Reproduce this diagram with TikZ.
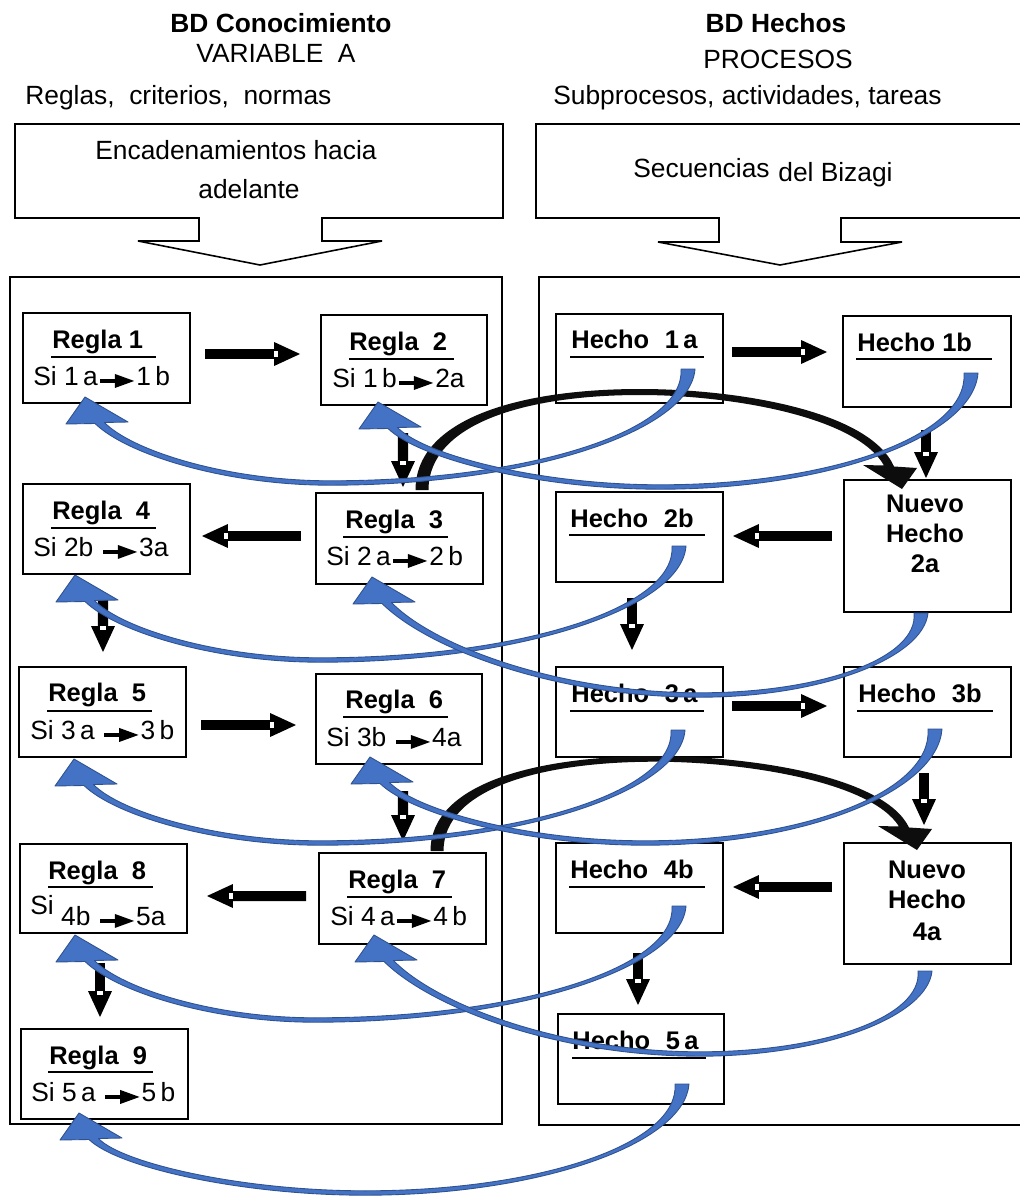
\documentclass[tikz,border=0pt]{standalone}
\usepackage{fontspec}
\setmainfont{Liberation Sans}
\usetikzlibrary{calc}

\definecolor{bandfill}{HTML}{4472C4}
\definecolor{bandline}{HTML}{2F528F}

% small inline arrow used inside the rule lines
\newcommand{\siarrow}{\hspace{1.2pt}\tikz[baseline={(0pt,-2.3pt)}]{\fill (0pt,-1.2pt) rectangle (8.5pt,1.2pt); \fill (8.5pt,-4pt) -- (19.5pt,0pt) -- (8.5pt,4pt) -- cycle;}\hspace{1.2pt}}
\newcommand{\gap}{\hspace{0.62em}}

% rectangular box given by its corners (pixel grid)
\newcommand{\boxat}[5]{\node[box, anchor=north west, minimum width={(#4-#2)*0.02cm}, minimum height={(#5-#3)*0.02cm}] (#1) at (#2,#3) {};}

% thick block arrow with a small white notch at the head
\newcommand{\blockarrow}[2]{%
  \coordinate (ba-from) at (#1);
  \coordinate (ba-to) at (#2);
  \coordinate (ba-base) at ($(ba-to)!14.7pt!(ba-from)$);
  \draw[line width=5.7pt] (ba-from) -- (ba-base);
  \fill ($(ba-base)!6.8pt!90:(ba-to)$) -- (ba-to) -- ($(ba-base)!6.8pt!-90:(ba-to)$) -- cycle;
  \draw[white, line width=3.2pt] (ba-base) -- ($(ba-base)!2.3pt!(ba-to)$);
}

% curved blue band arrow: start, lowest point, tip
\newcommand{\bluearrow}[3]{%
  \coordinate (bs) at (#1);
  \coordinate (bb) at (#2);
  \coordinate (bt) at (#3);
  \coordinate (bh) at ($(bt)+(14.75,26)$);
  \coordinate (c1) at ($(bs)!0.55!(bs|-bb)$);
  \coordinate (c2) at ($(bb)!0.55!(bs|-bb)$);
  \coordinate (c3) at ($(bb)!0.45!(bh|-bb)$);
  \coordinate (c4) at ($(bh)!0.7!45:(bh|-bb)$);
  \filldraw[fill=bandfill, draw=bandline, line width=0.5pt, line join=round]
    ($(bs)+(7,0)$) .. controls ($(c1)+(2.5,0)$) and ($(c2)+(0,2.2)$) .. ($(bb)+(0,2.2)$)
         .. controls ($(c3)+(0,2.2)$) and ($(c4)+(-2.2,2.2)$) .. ($(bt)+(10,26.5)$)
    -- ($(bt)+(-19,27)$) -- (bt) -- ($(bt)+(43,25)$) -- ($(bt)+(19.5,25.5)$)
         .. controls ($(c4)+(2.2,-2.2)$) and ($(c3)+(0,-2.2)$) .. ($(bb)+(0,-2.2)$)
         .. controls ($(c2)+(0,-2.2)$) and ($(c1)+(-2.5,0)$) .. ($(bs)+(-7,0)$)
    -- cycle;
}

% tapering black arc arrow, from the top of a rule box over to a new fact;
% #1 = height factor of the arc, #2 = foot of the arc
\newcommand{\blackarrow}[2]{%
  \def\kf{#1}%
  \coordinate (kp) at (#2);
  \fill[black!95] ($(kp)+(-6.5,0)$)
      .. controls ($(kp)+(-6.5,{-71*\kf})$) and ($(kp)+(97,{-101*\kf})$) .. ($(kp)+(218,{-101*\kf})$)
      .. controls ($(kp)+(313,{-101*\kf})$) and ($(kp)+(447,{-80*\kf})$) .. ($(kp)+(472,-23.5)$)
      -- ($(kp)+(495,-22)$) -- ($(kp)+(480,-1)$) -- ($(kp)+(441,-25)$) -- ($(kp)+(462,-24.5)$)
      .. controls ($(kp)+(434,{-74*\kf})$) and ($(kp)+(307,{-95*\kf})$) .. ($(kp)+(218,{-95*\kf})$)
      .. controls ($(kp)+(103,{-95*\kf})$) and ($(kp)+(6.5,{-66*\kf})$) .. ($(kp)+(6.5,0)$)
      -- cycle;
}

\begin{document}
\begin{tikzpicture}[x=0.02cm, y=-0.02cm,
  box/.style={draw, line width=1pt, fill=white, inner sep=0pt, outer sep=0pt},
  panel/.style={draw, line width=1.1pt},
  callout/.style={draw, line width=0.9pt, fill=white, line join=miter},
  uline/.style={line width=1.3pt},
  hd/.style={inner sep=0pt, font=\fontsize{15}{18}\selectfont},
  hdb/.style={inner sep=0pt, font=\bfseries\fontsize{15}{18}\selectfont},
  ttl/.style={inner sep=0pt, font=\bfseries\fontsize{14.5}{17}\selectfont},
  si/.style={inner sep=0pt, font=\fontsize{15}{18}\selectfont}]

\useasboundingbox (0,0) rectangle (1020,1196);
\clip (0,0) rectangle (1020,1196);
\fill[white] (0,0) rectangle (1020,1196);

% ---------- headings ----------
\node[hdb, anchor=base] (hkb) at (281,33) {BD Conocimiento};
\node[hd, anchor=base] (hvar) at (276,63) {VARIABLE\ \ A};
\node[hd, anchor=base west] (hreg) at (25,105) {Reglas,\ \ criterios,\ \ normas};
\node[hdb, anchor=base] (hhb) at (776,33) {BD Hechos};
\node[hd, anchor=base] (hpro) at (778,69) {PROCESOS};
\node[hd, anchor=base west] (hsub) at (553,105) {Subprocesos, actividades, tareas};

% ---------- callouts ----------
\draw[callout] (15,124) -- (503,124) -- (503,218) -- (322,218) -- (322,241) -- (382,241)
  -- (260,265) -- (138,241) -- (199,241) -- (199,218) -- (15,218) -- cycle;
\draw[callout] (536,124) -- (1026,124) -- (1026,218) -- (841,218) -- (841,242) -- (902,242)
  -- (780,265) -- (658,242) -- (719,242) -- (719,218) -- (536,218) -- cycle;
\node[hd, anchor=base] (enc1) at (236,160) {Encadenamientos hacia};
\node[hd, anchor=base] (enc2) at (249,198) {adelante};
\node[hd, anchor=base west] (sec1) at (633,178) {Secuencias};
\node[hd, anchor=base west] (sec2) at (778,182) {del Bizagi};

% ---------- panels ----------
\draw[panel] (10,277) rectangle (502,1124);
\draw[panel] (539,277) rectangle (1026,1125);

% ---------- rule boxes ----------
\boxat{r1}{23}{313}{190}{403}
\boxat{r2}{321}{315}{487}{405}
\boxat{r3}{316}{493}{483}{584}
\boxat{r4}{23}{484}{190}{574}
\boxat{r5}{19}{667}{186}{757}
\boxat{r6}{316}{674}{482}{764}
\boxat{r7}{319}{853}{486}{944}
\boxat{r8}{20}{844}{187}{933}
\boxat{r9}{21}{1029}{188}{1119}

\node[ttl, anchor=base west] (r1t) at (52,348) {Regla 1};
\node[ttl, anchor=base west] (r2t) at (349,350) {Regla\ \ 2};
\node[ttl, anchor=base west] (r3t) at (345,528) {Regla\ \ 3};
\node[ttl, anchor=base west] (r4t) at (52,519) {Regla\ \ 4};
\node[ttl, anchor=base west] (r5t) at (48,701) {Regla\ \ 5};
\node[ttl, anchor=base west] (r6t) at (345,708) {Regla\ \ 6};
\node[ttl, anchor=base west] (r7t) at (348,888) {Regla\ \ 7};
\node[ttl, anchor=base west] (r8t) at (48,879) {Regla\ \ 8};
\node[ttl, anchor=base west] (r9t) at (49,1064) {Regla\ \ 9};

\draw[uline] (51,357) -- (156,357);
\draw[uline] (349,359) -- (454,359);
\draw[uline] (343,537) -- (448,537);
\draw[uline] (51,528) -- (156,528);
\draw[uline] (47,711) -- (152,711);
\draw[uline] (343,717) -- (448,717);
\draw[uline] (347,897) -- (452,897);
\draw[uline] (48,887) -- (153,887);
\draw[uline] (48,1072) -- (153,1072);

\node[si, anchor=base west] (r1s) at (33,385) {Si 1\,a\siarrow 1\,b};
\node[si, anchor=base west] (r2s) at (332,387) {Si 1\,b\siarrow 2a};
\node[si, anchor=base west] (r3s) at (326,565) {Si 2\,a\siarrow 2\,b};
\node[si, anchor=base west] (r4s) at (33,556) {Si 2b \siarrow 3a};
\node[si, anchor=base west] (r5s) at (30,739) {Si 3\,a \siarrow 3\,b};
\node[si, anchor=base west] (r6s) at (326,746) {Si 3b \siarrow 4a};
\node[si, anchor=base west] (r7s) at (330,925) {Si 4\,a\siarrow 4\,b};
\node[si, anchor=base west] (r8s) at (30,925) {\raisebox{6.2pt}{Si} 4b \siarrow 5a};
\node[si, anchor=base west] (r9s) at (31,1101) {Si 5\,a \siarrow 5\,b};

% ---------- fact boxes ----------
\boxat{h1a}{556}{314}{723}{403}
\boxat{h1b}{843}{316}{1011}{407}
\boxat{n2a}{844}{480}{1011}{612}
\boxat{h2b}{556}{492}{723}{582}
\boxat{h3a}{556}{667}{723}{757}
\boxat{h3b}{844}{667}{1011}{757}
\boxat{n4a}{844}{843}{1011}{964}
\boxat{h4b}{556}{843}{723}{933}
\boxat{h5a}{558}{1014}{724}{1104}

\node[ttl, anchor=base west] (h1at) at (571,348) {Hecho\gap 1\,a};
\node[ttl, anchor=base west] (h1bt) at (857,351) {Hecho 1b};
\node[ttl, anchor=base west] (h2bt) at (570,527) {Hecho\gap 2b};
\node[ttl, anchor=base west] (h3at) at (571,702) {Hecho\gap 3\,a};
\node[ttl, anchor=base west] (h3bt) at (858,702) {Hecho\gap 3b};
\node[ttl, anchor=base west] (h4bt) at (570,878) {Hecho\gap 4b};
\node[ttl, anchor=base west] (h5at) at (572,1049) {Hecho\gap 5\,a};

\draw[uline] (570,357) -- (704,357);
\draw[uline] (856,359) -- (992,359);
\draw[uline] (569,535) -- (705,535);
\draw[uline] (570,711) -- (704,711);
\draw[uline] (857,711) -- (993,711);
\draw[uline] (569,887) -- (705,887);
\draw[uline] (572,1058) -- (706,1058);

\node[ttl, anchor=base] (n2a1) at (925,512) {Nuevo};
\node[ttl, anchor=base] (n2a2) at (925,542) {Hecho};
\node[ttl, anchor=base] (n2a3) at (925,572) {2a};
\node[ttl, anchor=base] (n4a1) at (927,878) {Nuevo};
\node[ttl, anchor=base] (n4a2) at (927,908) {Hecho};
\node[ttl, anchor=base] (n4a3) at (927,940) {4a};

% ---------- block arrows between boxes ----------
\blockarrow{$(r1.east)+(15,-4)$}{$(r2.west)+(-21,-6)$}
\blockarrow{$(r2.south)+(-1,28)$}{$(r3.north)+(3.5,-6)$}
\blockarrow{$(r3.west)+(-15,-2.5)$}{$(r4.east)+(12,7)$}
\blockarrow{$(r4.south)+(-3.5,24)$}{$(r5.north)+(0.5,-15)$}
\blockarrow{$(r5.east)+(15,13)$}{$(r6.west)+(-20,6)$}
\blockarrow{$(r6.south)+(4,27)$}{$(r7.north)+(0.5,-12)$}
\blockarrow{$(r7.west)+(-13,-2.5)$}{$(r8.east)+(20,7.5)$}
\blockarrow{$(r8.south)+(-3.5,30)$}{$(r9.north)+(-4.5,-12)$}
\blockarrow{$(h1a.east)+(9,-6.5)$}{$(h1b.west)+(-16,-9.5)$}
\blockarrow{$(h1b.south)+(-1,23)$}{$(n2a.north)+(-1.5,-2)$}
\blockarrow{$(n2a.west)+(-12,-10)$}{$(h2b.east)+(10,-1)$}
\blockarrow{$(h2b.south)+(-7.5,16)$}{$(h3a.north)+(-7.5,-17)$}
\blockarrow{$(h3a.east)+(9,-6)$}{$(h3b.west)+(-17,-6)$}
\blockarrow{$(h3b.south)+(-3.5,16)$}{$(n4a.north)+(-3.5,-18)$}
\blockarrow{$(n4a.west)+(-12,-16.5)$}{$(h4b.east)+(10,-1)$}
\blockarrow{$(h4b.south)+(-1.5,20)$}{$(h5a.north)+(-3,-9)$}

% ---------- black arcs: rule 3 -> new fact 2a, rule 7 -> new fact 4a ----------
\blackarrow{1}{$(r3.north)+(22.5,-3)$}
\blackarrow{0.94}{$(r7.north)+(34.5,-2)$}

% ---------- blue bands: each fact back to its rule ----------
\coordinate (a1s) at ($(h1a.south)+(48.5,-34)$);  \coordinate (a1t) at ($(r1.south)+(-21.5,-6)$);
\coordinate (a2s) at ($(h1b.south)+(44,-34)$);    \coordinate (a2t) at ($(r2.south)+(-26,-3)$);
\coordinate (a3s) at ($(h2b.south)+(39.5,-36)$);  \coordinate (a3t) at ($(r4.south)+(-31.5,1)$);
\coordinate (a4s) at ($(n2a.south)+(-6.5,1)$);    \coordinate (a4t) at ($(r3.south)+(-27.5,-7)$);
\coordinate (a5s) at ($(h3a.south)+(38.5,-27)$);  \coordinate (a5t) at ($(r5.south)+(-28.5,2)$);
\coordinate (a6s) at ($(h3b.south)+(7.5,-28)$);   \coordinate (a6t) at ($(r6.south)+(-29,-7)$);
\coordinate (a7s) at ($(h4b.south)+(39.5,-27)$);  \coordinate (a7t) at ($(r8.south)+(-28.5,2)$);
\coordinate (a8s) at ($(n4a.south)+(-2.5,7)$);    \coordinate (a8t) at ($(r7.south)+(-28.5,-9)$);
\coordinate (a9s) at ($(h5a.south)+(41,-20)$);    \coordinate (a9t) at ($(r9.south)+(-25.5,-6)$);

\bluearrow{a1s}{330,483}{a1t}
\bluearrow{a2s}{660,487}{a2t}
\bluearrow{a3s}{320,660}{a3t}
\bluearrow{a4s}{700,695}{a4t}
\bluearrow{a5s}{320,843}{a5t}
\bluearrow{a6s}{645,843}{a6t}
\bluearrow{a7s}{315,1020}{a7t}
\bluearrow{a8s}{700,1054}{a8t}
\bluearrow{a9s}{365,1193}{a9t}

\end{tikzpicture}
\end{document}
